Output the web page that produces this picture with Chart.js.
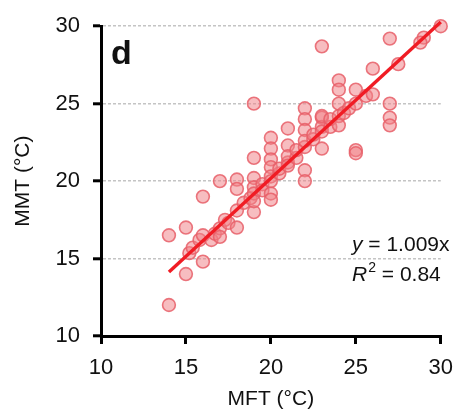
<!DOCTYPE html>
<html><head><meta charset="utf-8">
<script src="https://cdn.jsdelivr.net/npm/chart.js@4.4.0/dist/chart.umd.min.js"></script>
<style>html,body{margin:0;padding:0;background:#fff}canvas{display:block}</style>
</head><body>
<canvas id="c" width="464" height="414"></canvas>
<script>
// ---- data ----
const mft = [14,14,
  15,15,15.2,15.4,15.8,
  16,16,16,16.5,16.7,
  17,17,17,17.3,17.5,
  18,18,18,18,18.4,18.8,
  19,19,19,19,19,19,19,
  19.5,19.5,
  20,20,20,20,20,20,20,20,
  20.5,20.5,
  21,21,21,21,21,
  21.5,21.5,
  22,22,22,22,22,22,22,
  22.5,22.5,
  23,23,23,23,23,23,
  23.5,23.5,
  24,24,24,24,24,
  24.3,24.6,
  25,25,25,25,
  25.6,
  26,26,
  27,27,27,27,
  27.5,
  29,28.8,
  30];
const mmt = [16.5,12,
  17,14,15.35,15.7,16.2,
  19,16.5,14.8,16.2,16.6,
  20,16.95,16.4,17.5,17.3,
  20.1,19.5,18.1,17.0,18.6,18.9,
  25,21.5,20.2,19.6,18.0,19.2,18.7,
  19.8,19.4,
  22.8,22.1,21.4,20.9,20.3,19.2,18.8,20.0,
  20.5,20.8,
  23.4,22.3,21.2,21.6,21.0,
  21.5,22,
  24.7,24.0,23.3,20.7,20.0,22.2,22.6,
  22.7,23,
  28.7,24.1,23.5,24.2,22.1,23.2,
  23.5,24,
  26.5,25.9,25.0,24.2,23.6,
  24.4,24.7,
  25.9,22.0,21.8,25,
  25.5,
  27.26,25.6,
  29.2,25.0,24.1,23.6,
  27.55,
  29.26,28.94,
  30];
const xTicks = [10,15,20,25,30];
const yTicks = [10,15,20,25,30];
const fitSlope = 1.009;
const fitX = [14, 30];
const panelLabel = 'd';
const eqLeft = 'y';
const eqRight = ' = 1.009x';
const r2Left = 'R';
const r2Sup = '2';
const r2Right = ' = 0.84';
const xTitle = 'MFT (°C)';
const yTitle = 'MMT (°C)';

const FONT = "'Liberation Sans', Arial, Helvetica, sans-serif";
Chart.defaults.font.family = FONT;
Chart.defaults.color = '#111';

const points = mft.map((v, i) => ({x: v, y: mmt[i]}));
const fitLine = fitX.map(v => ({x: v, y: fitSlope * v}));

const annot = {
  id: 'annot',
  afterDatasetsDraw(chart) {
    const {ctx, chartArea: a} = chart;
    ctx.save();
    ctx.fillStyle = '#111';
    ctx.textBaseline = 'alphabetic';
    ctx.textAlign = 'left';
    ctx.font = "bold 34px " + FONT;
    ctx.fillText(panelLabel, a.left + 10, a.top + 38);

    const fs = 21;
    let x0 = a.left + 251, yb = a.top + 225;
    ctx.font = "italic " + fs + "px " + FONT;
    ctx.fillText(eqLeft, x0, yb);
    let w = ctx.measureText(eqLeft).width;
    ctx.font = fs + "px " + FONT;
    ctx.fillText(eqRight, x0 + w, yb);

    yb = a.top + 255;
    ctx.font = "italic " + fs + "px " + FONT;
    ctx.fillText(r2Left, x0, yb);
    w = ctx.measureText(r2Left).width;
    ctx.font = "14px " + FONT;
    ctx.fillText(r2Sup, x0 + w + 1, yb - 9);
    const w2 = ctx.measureText(r2Sup).width;
    ctx.font = fs + "px " + FONT;
    ctx.fillText(r2Right, x0 + w + w2 + 1, yb);
    ctx.restore();
  }
};

new Chart(document.getElementById('c'), {
  type: 'scatter',
  data: {
    datasets: [
      {
        type: 'line',
        data: fitLine,
        borderColor: '#f01c24',
        borderWidth: 3.4,
        pointRadius: 0,
        fill: false,
        order: 0
      },
      {
        data: points,
        backgroundColor: 'rgba(240,128,135,0.52)',
        borderColor: 'rgba(232,95,105,0.85)',
        borderWidth: 1.6,
        pointRadius: 6.4,
        order: 1
      }
    ]
  },
  options: {
    responsive: false,
    animation: false,
    clip: false,
    layout: {padding: {top: 25, right: 21, left: 0, bottom: 0}},
    plugins: {legend: {display: false}, tooltip: {enabled: false}},
    scales: {
      x: {
        type: 'linear',
        min: xTicks[0], max: xTicks[xTicks.length - 1],
        afterBuildTicks: s => { s.ticks = xTicks.map(v => ({value: v})); },
        afterFit: s => { s.height = 78; },
        grid: {drawOnChartArea: false, tickLength: 8, tickWidth: 3, tickColor: '#000', lineWidth: 3},
        border: {color: '#000', width: 3},
        ticks: {font: {size: 22}, color: '#111', padding: 11, maxRotation: 0},
        title: {display: true, text: xTitle, font: {size: 21}, color: '#111', padding: {top: 0, bottom: 2}}
      },
      y: {
        type: 'linear',
        min: yTicks[0], max: yTicks[yTicks.length - 1],
        afterBuildTicks: s => { s.ticks = yTicks.map(v => ({value: v})); },
        afterFit: s => { s.width = 101; },
        grid: {
          color: c => (c.tick && c.tick.value === yTicks[0]) ? 'rgba(0,0,0,0)' : '#c4c4c4',
          lineWidth: 1.6,
          tickLength: 8, tickWidth: 3, tickColor: '#000'
        },
        border: {color: '#000', width: 3, dash: [3, 2]},
        ticks: {font: {size: 22}, color: '#111', padding: 13},
        title: {display: true, text: yTitle, font: {size: 21}, color: '#111', padding: {top: 11, bottom: 0}}
      }
    }
  },
  plugins: [annot]
});
</script>
</body></html>
